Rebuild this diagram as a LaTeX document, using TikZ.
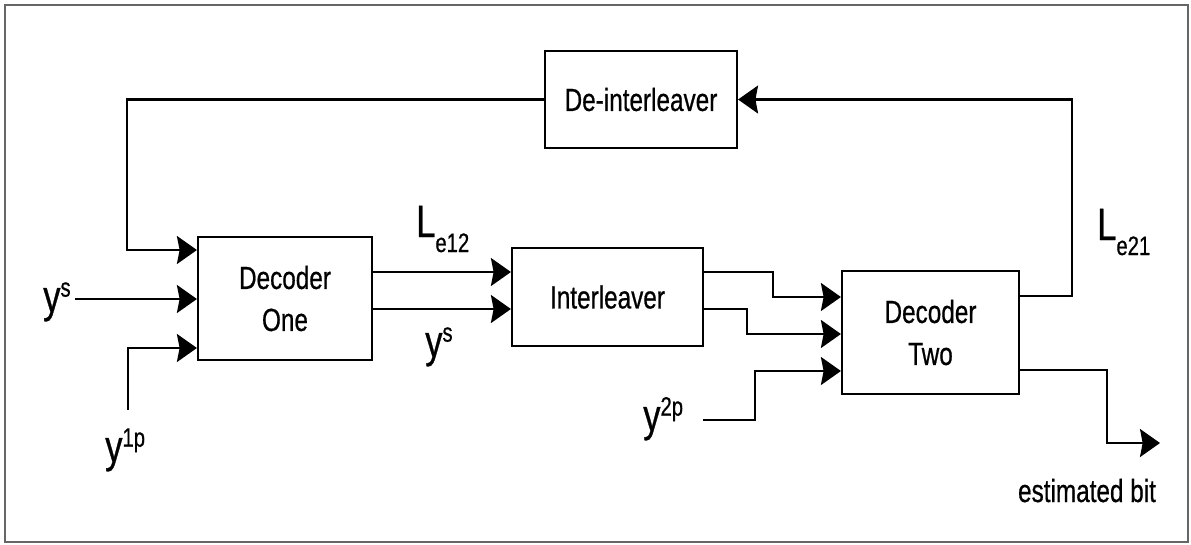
\documentclass[tikz,border=0pt]{standalone}
\usepackage{fontspec}
\setmainfont{Liberation Sans}[FakeStretch=0.76,FakeBold=0.6]
\usetikzlibrary{arrows.meta,calc}
\newcommand{\suplab}[2]{{\fontsize{34}{34}\selectfont #1}\raisebox{11.5pt}{\fontsize{20}{20}\selectfont #2}}
\newcommand{\sublab}[2]{{\fontsize{34}{34}\selectfont #1}\raisebox{-11.25pt}{\fontsize{20}{20}\selectfont #2}}
\tikzset{
  blockbox/.style={draw=black, line width=1.6pt, align=center, inner sep=0pt,
    font=\fontsize{24}{31.5}\selectfont},
  wire/.style={draw=black, line width=1.6pt},
  arr/.style={wire, -{Stealth[length=15pt,width=21pt,inset=2pt]}},
  lab/.style={inner sep=0pt, anchor=base west},
}
\begin{document}
\begin{tikzpicture}[x=0.75pt,y=-0.75pt]
\useasboundingbox (0,0) rectangle (1191,544);
\draw[black!60, line width=1.1pt] (5,5) rectangle (1188,542);

% blocks
\node[blockbox, minimum width=130.5pt, minimum height=92.25pt] (dec1) at (285,298.5) {Decoder\\One};
\node[blockbox, minimum width=143.25pt, minimum height=73.5pt] (inter) at (607.5,297) {Interleaver};
\node[blockbox, minimum width=144pt, minimum height=72.75pt] (deint) at (641,99.5) {De-interleaver};
\node[blockbox, minimum width=132.75pt, minimum height=92.25pt] (dec2) at (930.5,332.5) {Decoder\\Two};

% free ends
\coordinate (ysin) at (75,299);
\coordinate (y1pin) at (128,410);
\coordinate (y2pin) at (703,420);
\coordinate (estout) at (1160,443);

% labels
\node[lab] (lys) at (43,312) {\suplab{y}{s}};
\node[lab] (ly1p) at (105,462) {\suplab{y}{1p}};
\node[lab] (lle12) at (416,237) {\sublab{L}{e12}};
\node[lab] (lys2) at (425,357) {\suplab{y}{s}};
\node[lab] (ly2p) at (643,431) {\suplab{y}{2p}};
\node[lab] (lle21) at (1097,240) {\sublab{L}{e21}};
\node[inner sep=0pt, anchor=base, font=\fontsize{24}{24}\selectfont] (lest) at (1087,502) {estimated bit};

% decoder one inputs
\draw[arr] (deint.west) -- (127,99.5) |- (dec1.west |- 0,250);
\draw[arr] (ysin) -- (dec1.west |- ysin);
\draw[arr] (y1pin) |- (dec1.west |- 0,348);

% decoder one -> interleaver
\draw[arr] (dec1.east |- 0,272) -- (inter.west |- 0,272);
\draw[arr] (dec1.east |- 0,309) -- (inter.west |- 0,309);

% interleaver -> decoder two
\draw[arr] (inter.east |- 0,272) -- (773,272) |- (dec2.west |- 0,297);
\draw[arr] (inter.east |- 0,309) -- (747,309) |- (dec2.west |- 0,334);
\draw[arr] (y2pin) -- (755,420) |- (dec2.west |- 0,371);

% decoder two outputs
\draw[arr] (dec2.east |- 0,296) -- (1072,296) |- (deint.east);
\draw[arr] (dec2.east |- 0,370) -- (1107,370) |- (estout);
\end{tikzpicture}
\end{document}
